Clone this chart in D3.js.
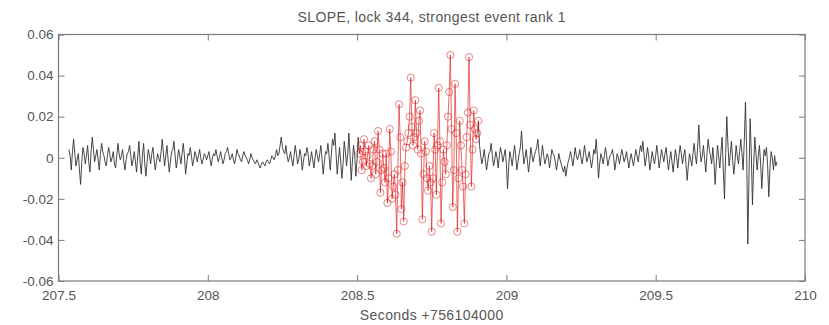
<!DOCTYPE html>
<html><head><meta charset="utf-8">
<script src="https://cdn.jsdelivr.net/npm/d3@7"></script>
<style>
html,body{margin:0;padding:0;background:#fff;}
svg{display:block;}
text{font-family:"Liberation Sans",Arial,Helvetica,sans-serif;fill:#555;}
</style></head>
<body>
<svg id="chart" width="829" height="325"></svg>
<script>
// ---- data ----
const titleText = "SLOPE, lock 344, strongest event rank 1";
const xLabelText = "Seconds +756104000";
const xTicks = [207.5, 208, 208.5, 209, 209.5, 210];
const xTickLabels = ["207.5", "208", "208.5", "209", "209.5", "210"];
const yTicks = [-0.06, -0.04, -0.02, 0, 0.02, 0.04, 0.06];
const yTickLabels = ["-0.06", "-0.04", "-0.02", "0", "0.02", "0.04", "0.06"];
const xDomain = [207.5, 210];
const yDomain = [-0.06, 0.06];
const startTime = 207.535;   // time of first sample
const sampleRate = 256;      // samples per second

// signal before the event (black)
const signalBefore = [
 0.004,0.001,-0.006,0.003,0.009,0.002,-0.004,-0.001,0.002,-0.006,-0.013,-0.002,0.005,0.002,-0.003,0.001,0.006,-0.002,-0.007,0.003,
 0.010,0.004,-0.002,0.001,0.004,-0.001,-0.006,0.002,0.007,0.003,0.001,-0.002,-0.004,0.001,0.005,0.002,-0.002,0.000,0.003,-0.003,
 -0.005,0.001,0.007,0.002,-0.001,0.001,0.004,-0.002,-0.006,-0.001,0.002,0.003,0.006,0.001,-0.004,-0.001,0.003,-0.002,-0.007,0.001,
 0.008,-0.002,-0.008,0.001,0.007,-0.003,-0.009,-0.002,0.004,0.001,-0.003,0.002,0.005,-0.001,-0.006,-0.002,0.002,0.000,-0.002,0.003,
 0.009,0.002,-0.004,0.001,0.006,-0.001,-0.007,-0.002,0.003,0.004,0.008,0.001,-0.005,-0.001,0.004,0.001,-0.003,0.002,0.007,0.001,
 -0.008,-0.003,0.002,0.001,0.005,0.001,-0.004,-0.001,0.003,0.001,-0.002,0.001,0.004,0.000,-0.003,-0.001,0.002,0.001,-0.001,0.001,
 0.003,-0.001,-0.004,0.000,0.002,0.001,0.004,0.001,-0.002,0.000,0.003,0.000,-0.003,-0.001,0.002,0.003,0.005,0.002,-0.001,0.000,
 0.002,-0.001,-0.003,0.000,0.004,0.002,0.001,-0.001,-0.002,0.001,0.003,0.001,0.000,-0.001,-0.003,-0.001,0.002,0.000,-0.001,-0.002,
 -0.003,-0.001,-0.002,-0.004,-0.005,-0.003,-0.002,-0.003,-0.004,-0.002,-0.001,-0.002,-0.003,-0.001,0.001,0.000,-0.001,0.001,0.004,0.001,
 0.002,0.006,0.010,0.005,0.003,0.002,0.006,0.001,-0.002,0.000,0.003,-0.001,-0.004,0.001,0.006,0.002,-0.003,-0.001,0.004,0.001,
 -0.006,-0.002,0.002,0.001,0.005,0.002,-0.004,-0.001,0.003,-0.001,-0.005,0.000,0.004,0.001,-0.002,0.002,0.006,-0.001,-0.008,-0.002,
 0.003,0.002,0.007,0.001,-0.006,0.002,0.009,0.006,0.012,0.002,-0.008,-0.001,0.005,-0.002,-0.010,-0.003,0.008,0.003,-0.004,0.002,
 0.012,0.001,-0.011,-0.002,0.006,0.001,-0.009,-0.001,0.010
];
// strongest event samples (red, circles)
const eventSignal = [
 0.002,0.006,-0.006,-0.002,0.009,0.003,-0.004,0.001,0.006,-0.003,
 -0.010,-0.004,0.004,0.008,-0.008,-0.002,0.013,0.004,-0.017,-0.006,
 0.002,-0.005,-0.012,0.002,-0.022,-0.010,0.014,0.003,-0.020,-0.014,
 -0.008,-0.018,-0.037,-0.006,0.026,0.010,-0.025,-0.012,-0.031,-0.004,
 0.005,0.008,0.012,0.020,0.039,0.015,0.006,0.010,0.028,0.012,
 0.004,0.018,0.023,0.002,-0.030,-0.008,0.008,0.003,-0.010,-0.016,
 -0.004,-0.012,-0.036,-0.010,0.012,0.004,-0.018,0.006,0.034,0.008,
 -0.032,-0.012,0.004,-0.002,-0.008,0.006,0.020,0.032,0.050,0.014,
 -0.024,-0.006,0.036,0.012,-0.036,-0.010,0.018,0.006,-0.006,-0.014,
 -0.032,-0.008,0.010,0.022,0.049,0.016,-0.014,0.004,0.023,0.014,
 0.009,0.012,0.018
];
// signal after the event (black)
const signalAfter = [
 0.006,0.001,-0.003,0.000,0.004,-0.001,-0.006,-0.002,0.002,0.003,0.007,0.001,-0.004,-0.001,0.003,0.000,-0.005,0.001,0.005,0.002,
 -0.002,0.001,0.004,-0.003,-0.015,-0.004,0.003,0.000,-0.004,0.001,0.006,0.001,-0.006,-0.002,0.002,0.005,0.013,0.004,-0.003,0.000,
 0.004,-0.001,-0.007,-0.002,0.005,0.001,-0.002,0.001,0.003,0.005,0.009,0.002,-0.004,0.001,0.006,0.001,-0.003,-0.001,0.002,0.000,
 -0.005,-0.001,0.004,0.002,0.001,-0.002,-0.006,-0.002,0.002,-0.001,-0.003,-0.005,-0.007,-0.004,-0.009,-0.005,-0.002,0.000,0.003,0.000,
 -0.004,0.000,0.005,0.001,-0.001,0.001,0.004,0.000,-0.003,0.001,0.006,0.002,-0.002,0.000,0.003,-0.001,-0.005,-0.001,0.004,0.002,
 0.009,0.001,-0.010,-0.003,0.002,0.000,-0.003,0.001,0.005,0.001,-0.004,-0.001,0.001,0.002,0.004,0.000,-0.006,-0.002,0.002,0.000,
 -0.003,0.001,0.004,0.001,-0.002,0.000,0.003,-0.001,-0.005,-0.001,0.002,-0.001,-0.004,0.000,0.004,0.001,-0.002,0.002,0.006,0.003,
 0.008,0.002,-0.004,0.000,0.005,0.001,-0.006,-0.002,0.003,0.000,-0.003,0.001,0.006,0.001,-0.005,-0.001,0.004,0.001,-0.002,0.002,
 0.005,-0.001,-0.006,-0.001,0.003,-0.002,-0.007,-0.001,0.004,0.000,-0.005,0.001,0.006,0.002,-0.003,0.001,0.004,-0.003,-0.011,-0.004,
 0.002,-0.001,-0.004,0.002,0.007,0.001,-0.003,0.005,0.016,0.004,-0.002,0.001,0.006,-0.001,-0.007,0.002,0.009,0.004,0.001,-0.003,
 0.005,-0.002,-0.013,-0.003,0.006,0.001,-0.005,0.003,0.010,-0.006,-0.020,0.002,0.020,0.006,-0.004,0.002,0.008,-0.001,-0.008,-0.002,
 0.006,0.001,-0.003,0.003,0.009,0.002,-0.006,0.008,0.027,0.004,-0.042,-0.010,0.019,0.002,-0.023,-0.004,0.010,0.002,-0.006,0.001,
 0.006,-0.003,-0.015,-0.004,0.004,0.001,0.005,-0.004,-0.019,-0.005,0.003,0.000,-0.006,0.001,-0.004,-0.002
];

// ---- layout ----
const W = 829, H = 325;
const margin = {left: 58.5, right: 24, top: 34.5, bottom: 44};
const svg = d3.select("#chart");
const x = d3.scaleLinear().domain(xDomain).range([margin.left, W - margin.right]);
const y = d3.scaleLinear().domain(yDomain).range([H - margin.bottom, margin.top]);

const allValues = signalBefore.concat(eventSignal, signalAfter);
const pts = allValues.map((v, i) => ({t: startTime + i / sampleRate, v}));
const nB = signalBefore.length, nE = eventSignal.length;
const beforePts = pts.slice(0, nB + 1);
const eventPts = pts.slice(nB, nB + nE);
const afterPts = pts.slice(nB + nE - 1);

const line = d3.line().x(d => x(d.t)).y(d => y(d.v));
const axisColor = "#7a7a7a";
const tickLen = 6;

// frame
const x0 = x.range()[0], x1 = x.range()[1], y0 = y.range()[0], y1 = y.range()[1];
svg.append("rect").attr("x", x0).attr("y", y1).attr("width", x1 - x0).attr("height", y0 - y1)
  .attr("fill", "none").attr("stroke", axisColor).attr("stroke-width", 1.2);

function styleAxis(g){
  g.select(".domain").remove();
  g.selectAll("line").attr("stroke", axisColor).attr("stroke-width", 1);
  g.selectAll("text").attr("fill", "#5a5a5a").style("font-size", "13.5px")
   .style("font-family", "'Liberation Sans',Arial,sans-serif");
}
const xb = svg.append("g").attr("transform", `translate(0,${y0})`)
  .call(d3.axisBottom(x).tickValues(xTicks).tickFormat((d,i) => xTickLabels[i]).tickSizeInner(-tickLen).tickSizeOuter(0).tickPadding(9));
styleAxis(xb);
const xt = svg.append("g").attr("transform", `translate(0,${y1})`)
  .call(d3.axisTop(x).tickValues(xTicks).tickFormat("").tickSizeInner(-tickLen).tickSizeOuter(0));
styleAxis(xt);
const yl = svg.append("g").attr("transform", `translate(${x0},0)`)
  .call(d3.axisLeft(y).tickValues(yTicks).tickFormat((d,i) => yTickLabels[i]).tickSizeInner(-tickLen).tickSizeOuter(0).tickPadding(5));
styleAxis(yl);
const yr = svg.append("g").attr("transform", `translate(${x1},0)`)
  .call(d3.axisRight(y).tickValues(yTicks).tickFormat("").tickSizeInner(-tickLen).tickSizeOuter(0));
styleAxis(yr);

// black signal
svg.append("path").datum(beforePts).attr("d", line)
  .attr("fill", "none").attr("stroke", "#333").attr("stroke-width", 0.9).attr("stroke-linejoin", "round");
svg.append("path").datum(afterPts).attr("d", line)
  .attr("fill", "none").attr("stroke", "#333").attr("stroke-width", 0.9).attr("stroke-linejoin", "round");

// red event
svg.append("path").datum(eventPts).attr("d", line)
  .attr("fill", "none").attr("stroke", "#e01010").attr("stroke-opacity", 0.7).attr("stroke-width", 0.9);
svg.append("g").selectAll("circle").data(eventPts).join("circle")
  .attr("cx", d => x(d.t)).attr("cy", d => y(d.v)).attr("r", 3.6)
  .attr("fill", "none").attr("stroke", "#d81818").attr("stroke-opacity", 0.65).attr("stroke-width", 0.8);

// title & label
svg.append("text").attr("x", (x0 + x1) / 2).attr("y", 22).attr("text-anchor", "middle")
  .style("font-size", "14px").style("letter-spacing", "0.4px").attr("fill", "#555").text(titleText);
svg.append("text").attr("x", (x0 + x1) / 2).attr("y", 320).attr("text-anchor", "middle")
  .style("font-size", "14px").style("letter-spacing", "0.4px").attr("fill", "#555").text(xLabelText);
</script>
</body></html>
